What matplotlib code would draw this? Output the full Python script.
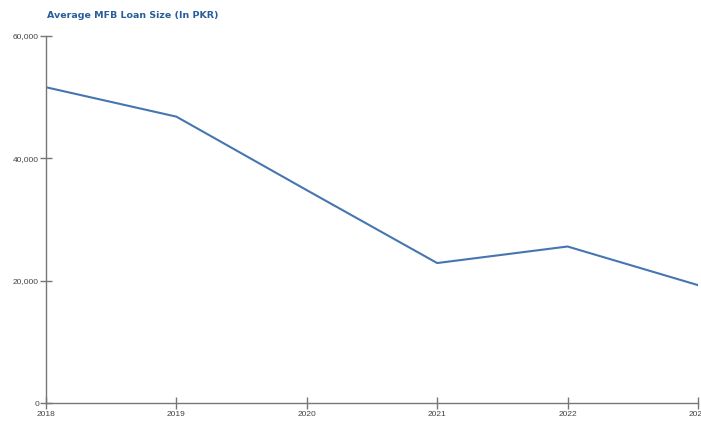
import matplotlib
matplotlib.use("Agg")
import matplotlib.pyplot as plt
from matplotlib.ticker import FuncFormatter

years = [2018, 2019, 2020, 2021, 2022, 2023]
avg_loan_size = [51600, 46800, 34800, 22900, 25600, 19300]
y_ticks = [0, 20000, 40000, 60000]

plt.rcParams["font.family"] = ["Liberation Sans", "DejaVu Sans"]

fig = plt.figure(figsize=(7.01, 4.21), dpi=100)
ax = fig.add_axes([0.0656, 0.042, 0.930, 0.873])

ax.plot(years, avg_loan_size, color="#4676b0", linewidth=1.5, solid_joinstyle="miter")

ax.set_xlim(2018, 2023)
ax.set_ylim(0, 60000)
ax.set_xticks(years)
ax.set_yticks(y_ticks)
ax.yaxis.set_major_formatter(FuncFormatter(lambda v, p: f"{int(v):,}"))

for side in ("top", "right"):
    ax.spines[side].set_visible(False)
for side in ("left", "bottom"):
    ax.spines[side].set_color("#777777")
    ax.spines[side].set_linewidth(1.0)

ax.tick_params(axis="both", direction="inout", length=8, width=1.0,
               color="#777777", labelsize=6, labelcolor="#444444")
ax.tick_params(axis="y", pad=1)
ax.tick_params(axis="x", pad=1.5)

for lbl in ax.get_xticklabels():
    lbl.set_clip_on(False)

fig.text(0.067, 0.962, "Average MFB Loan Size (In PKR)", fontsize=6.8,
         fontweight="bold", family="DejaVu Sans", color="#2a5d9c",
         ha="left", va="center")

fig.savefig("out.png", dpi=100)
